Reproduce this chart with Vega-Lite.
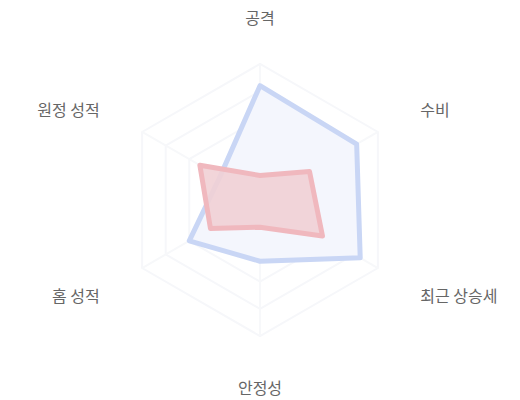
{
  "$schema": "https://vega.github.io/schema/vega-lite/v6.json",
  "autosize": {"type": "fit", "contains": "padding"},
  "width": 520,
  "height": 400,
  "padding": 0,
  "background": "#ffffff",
  "config": {"view": {"stroke": null}},
  "datasets": {
    "axes": [
      {"axis": "공격", "i": 0},
      {"axis": "수비", "i": 1},
      {"axis": "최근 상승세", "i": 2},
      {"axis": "안정성", "i": 3},
      {"axis": "홈 성적", "i": 4},
      {"axis": "원정 성적", "i": 5}
    ],
    "grid": [
      {"level": 20, "axis": "공격"}, {"level": 20, "axis": "수비"}, {"level": 20, "axis": "최근 상승세"}, {"level": 20, "axis": "안정성"}, {"level": 20, "axis": "홈 성적"}, {"level": 20, "axis": "원정 성적"},
      {"level": 40, "axis": "공격"}, {"level": 40, "axis": "수비"}, {"level": 40, "axis": "최근 상승세"}, {"level": 40, "axis": "안정성"}, {"level": 40, "axis": "홈 성적"}, {"level": 40, "axis": "원정 성적"},
      {"level": 60, "axis": "공격"}, {"level": 60, "axis": "수비"}, {"level": 60, "axis": "최근 상승세"}, {"level": 60, "axis": "안정성"}, {"level": 60, "axis": "홈 성적"}, {"level": 60, "axis": "원정 성적"},
      {"level": 80, "axis": "공격"}, {"level": 80, "axis": "수비"}, {"level": 80, "axis": "최근 상승세"}, {"level": 80, "axis": "안정성"}, {"level": 80, "axis": "홈 성적"}, {"level": 80, "axis": "원정 성적"},
      {"level": 100, "axis": "공격"}, {"level": 100, "axis": "수비"}, {"level": 100, "axis": "최근 상승세"}, {"level": 100, "axis": "안정성"}, {"level": 100, "axis": "홈 성적"}, {"level": 100, "axis": "원정 성적"}
    ],
    "scores": [
      {"series": "A", "axis": "공격", "value": 84},
      {"series": "A", "axis": "수비", "value": 82},
      {"series": "A", "axis": "최근 상승세", "value": 85},
      {"series": "A", "axis": "안정성", "value": 45},
      {"series": "A", "axis": "홈 성적", "value": 60},
      {"series": "A", "axis": "원정 성적", "value": 34},
      {"series": "B", "axis": "공격", "value": 18},
      {"series": "B", "axis": "수비", "value": 42},
      {"series": "B", "axis": "최근 상승세", "value": 53},
      {"series": "B", "axis": "안정성", "value": 20},
      {"series": "B", "axis": "홈 성적", "value": 42},
      {"series": "B", "axis": "원정 성적", "value": 51}
    ]
  },
  "layer": [
    {
      "data": {"name": "grid"},
      "transform": [
        {"lookup": "axis", "from": {"data": {"name": "axes"}, "key": "axis", "fields": ["i"]}},
        {"calculate": "datum.level * sin(datum.i * PI / 3)", "as": "x"},
        {"calculate": "datum.level * cos(datum.i * PI / 3)", "as": "y"}
      ],
      "mark": {"type": "line", "interpolate": "linear-closed", "stroke": "#f6f7fa", "strokeWidth": 2},
      "encoding": {
        "x": {"field": "x", "type": "quantitative", "scale": {"domain": [-191, 191], "nice": false, "zero": false}, "axis": null},
        "y": {"field": "y", "type": "quantitative", "scale": {"domain": [-147, 147], "nice": false, "zero": false}, "axis": null},
        "detail": {"field": "level", "type": "nominal"},
        "order": {"field": "i", "type": "quantitative"}
      }
    },
    {
      "data": {"name": "axes"},
      "transform": [
        {"calculate": "100 * sin(datum.i * PI / 3)", "as": "x"},
        {"calculate": "100 * cos(datum.i * PI / 3)", "as": "y"},
        {"calculate": "0", "as": "o"}
      ],
      "mark": {"type": "rule", "stroke": "#f7f8fa", "strokeWidth": 2},
      "encoding": {
        "x": {"field": "o", "type": "quantitative"},
        "y": {"field": "o", "type": "quantitative"},
        "x2": {"field": "x"},
        "y2": {"field": "y"}
      }
    },
    {
      "data": {"name": "scores"},
      "transform": [
        {"filter": "datum.series == 'A'"},
        {"lookup": "axis", "from": {"data": {"name": "axes"}, "key": "axis", "fields": ["i"]}},
        {"calculate": "datum.value * sin(datum.i * PI / 3)", "as": "x"},
        {"calculate": "datum.value * cos(datum.i * PI / 3)", "as": "y"}
      ],
      "mark": {"type": "line", "interpolate": "linear-closed", "stroke": "#c9d6f5", "strokeWidth": 5, "fill": "#f4f6fd", "strokeJoin": "round"},
      "encoding": {
        "x": {"field": "x", "type": "quantitative"},
        "y": {"field": "y", "type": "quantitative"},
        "order": {"field": "i", "type": "quantitative"}
      }
    },
    {
      "data": {"name": "scores"},
      "transform": [
        {"filter": "datum.series == 'B'"},
        {"lookup": "axis", "from": {"data": {"name": "axes"}, "key": "axis", "fields": ["i"]}},
        {"calculate": "datum.value * sin(datum.i * PI / 3)", "as": "x"},
        {"calculate": "datum.value * cos(datum.i * PI / 3)", "as": "y"}
      ],
      "mark": {"type": "line", "interpolate": "linear-closed", "stroke": "#f0b8be", "strokeWidth": 5, "fill": "#f1d0d5", "fillOpacity": 0.9, "strokeJoin": "round"},
      "encoding": {
        "x": {"field": "x", "type": "quantitative"},
        "y": {"field": "y", "type": "quantitative"},
        "order": {"field": "i", "type": "quantitative"}
      }
    },
    {
      "data": {"name": "axes"},
      "transform": [
        {"filter": "datum.i == 0 || datum.i == 3"},
        {"calculate": "136 * sin(datum.i * PI / 3)", "as": "x"},
        {"calculate": "136 * cos(datum.i * PI / 3)", "as": "y"}
      ],
      "mark": {"type": "text", "font": "Noto Sans CJK KR", "fontSize": 16, "color": "#666666", "baseline": "middle", "align": "center", "dy": 4},
      "encoding": {
        "x": {"field": "x", "type": "quantitative"},
        "y": {"field": "y", "type": "quantitative"},
        "text": {"field": "axis", "type": "nominal"}
      }
    },
    {
      "data": {"name": "axes"},
      "transform": [
        {"filter": "datum.i == 1 || datum.i == 2"},
        {"calculate": "136 * sin(datum.i * PI / 3)", "as": "x"},
        {"calculate": "136 * cos(datum.i * PI / 3)", "as": "y"}
      ],
      "mark": {"type": "text", "font": "Noto Sans CJK KR", "fontSize": 16, "color": "#666666", "baseline": "middle", "align": "left", "dy": 4},
      "encoding": {
        "x": {"field": "x", "type": "quantitative"},
        "y": {"field": "y", "type": "quantitative"},
        "text": {"field": "axis", "type": "nominal"}
      }
    },
    {
      "data": {"name": "axes"},
      "transform": [
        {"filter": "datum.i == 4 || datum.i == 5"},
        {"calculate": "136 * sin(datum.i * PI / 3)", "as": "x"},
        {"calculate": "136 * cos(datum.i * PI / 3)", "as": "y"}
      ],
      "mark": {"type": "text", "font": "Noto Sans CJK KR", "fontSize": 16, "color": "#666666", "baseline": "middle", "align": "right", "dy": 4},
      "encoding": {
        "x": {"field": "x", "type": "quantitative"},
        "y": {"field": "y", "type": "quantitative"},
        "text": {"field": "axis", "type": "nominal"}
      }
    }
  ]
}
